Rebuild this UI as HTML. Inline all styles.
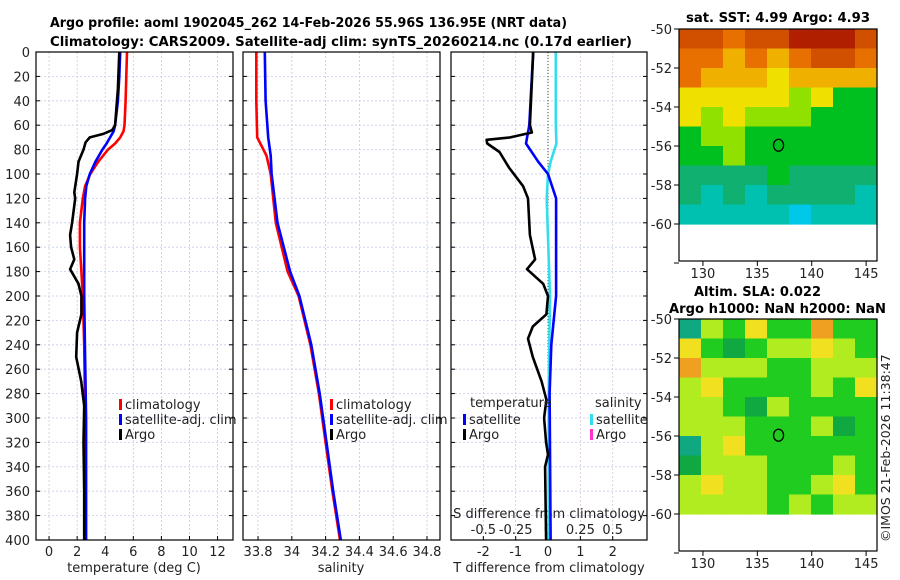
<!DOCTYPE html>
<html><head><meta charset="utf-8"><style>
body{margin:0;background:#fff;}
svg{display:block;font-family:"DejaVu Sans","Liberation Sans",sans-serif;}
</style></head><body>
<svg id="chart" width="900" height="580" viewBox="0 0 900 580">
<text x="50" y="27" font-size="13" font-weight="bold" textLength="517" lengthAdjust="spacingAndGlyphs">Argo profile: aoml 1902045_262 14-Feb-2026 55.96S 136.95E (NRT data)</text>
<text x="50" y="46" font-size="13" font-weight="bold" textLength="582" lengthAdjust="spacingAndGlyphs">Climatology: CARS2009. Satellite-adj clim: synTS_20260214.nc (0.17d earlier)</text>
<text x="686" y="22" font-size="13" font-weight="bold" textLength="184" lengthAdjust="spacingAndGlyphs">sat. SST: 4.99 Argo: 4.93</text>
<text x="694" y="296" font-size="13" font-weight="bold" textLength="127" lengthAdjust="spacingAndGlyphs">Altim. SLA: 0.022</text>
<text x="669" y="313" font-size="13" font-weight="bold" textLength="217" lengthAdjust="spacingAndGlyphs">Argo h1000: NaN h2000: NaN</text>
<text transform="translate(890,542) rotate(-90)" font-size="12.5" fill="#222">©IMOS 21-Feb-2026 11:38:47</text>
<g id="g"></g>
</svg>
<script>
// depth (m)
const depthT=[0,20,40,60,65,70,75,80,90,100,110,120,140,160,180,200,240,300,400];
const tempClim=[5.55,5.5,5.45,5.37,5.3,5.07,4.7,4.2,3.5,2.93,2.57,2.4,2.2,2.2,2.3,2.4,2.5,2.57,2.6];
const tempSat=[5.07,5.0,4.9,4.7,4.6,4.35,4.1,3.8,3.3,2.9,2.65,2.57,2.5,2.5,2.5,2.5,2.55,2.64,2.64];
const depthArgo=[0,30,60,64,67,70,74,80,90,100,115,120,140,150,160,170,178,190,200,215,230,250,270,290,320,360,400];
const tempArgo=[5.0,4.9,4.7,4.5,3.9,2.9,2.6,2.45,2.1,2.0,1.8,1.86,1.64,1.5,1.57,1.8,1.5,2.1,2.3,2.3,2.0,1.93,2.29,2.5,2.45,2.5,2.5];
const depthS=[0,40,70,85,100,140,180,200,240,280,320,360,400];
const salClim=[33.79,33.79,33.795,33.85,33.875,33.905,33.975,34.04,34.11,34.16,34.2,34.24,34.285];
const salSat=[33.84,33.845,33.86,33.875,33.88,33.915,33.99,34.045,34.115,34.165,34.205,34.245,34.29];
const depthD=[0,60,75,90,100,120,200,240,280,400];
const dTSat=[-0.46,-0.58,-0.68,-0.3,0,0.25,0.25,0.1,0.05,0.08];
const dSSat=[0.06,0.06,0.065,0.02,0,-0.01,0.015,0.01,0.005,0.005];
const depthDA=[0,60,66,70,72,75,82,95,110,120,150,170,178,190,200,215,225,235,250,270,285,300,320,330,340,400];
const dTArgo=[-0.46,-0.56,-0.5,-1.17,-1.9,-1.88,-1.5,-1.2,-0.77,-0.62,-0.56,-0.4,-0.65,-0.15,0,-0.05,-0.47,-0.62,-0.47,-0.2,-0.05,-0.12,-0.06,0,-0.09,-0.06];
const tTicks=[0,2,4,6,8,10,12];
const sTicks=[33.8,34,34.2,34.4,34.6,34.8];
const dTicks=[-2,-1,0,1,2];
const dsTicks=["-0.5","-0.25","0","0.25","0.5"];
const yTicks=[0,20,40,60,80,100,120,140,160,180,200,220,240,260,280,300,320,340,360,380,400];
const latTicks=[-50,-52,-54,-56,-58,-60];
const lonTicks=[130,135,140,145];
const sstGrid=[[8,8,7,8,8,9,9,9,8],[7,7,6,7,6,7,8,8,7],[7,6,6,6,5,6,6,6,6],[5,5,5,5,5,4,5,3,3],[5,4,5,4,4,4,3,3,3],[3,4,4,3,3,3,3,3,3],[3,3,4,3,3,3,3,3,3],[2,2,2,2,3,2,2,2,2],[2,1,2,1,2,2,2,2,1],[1,1,1,1,1,0,1,1,1]];
const slaGrid=[[1,4,3,5,3,3,6,3,3],[5,3,2,3,4,4,5,4,3],[6,4,4,4,3,3,4,4,4],[4,5,3,3,3,3,4,3,5],[4,4,3,2,4,3,3,3,3],[4,4,4,3,3,3,4,2,3],[1,4,5,3,3,3,3,3,3],[2,4,4,4,3,3,3,4,3],[4,5,4,4,3,3,4,5,3],[4,4,4,4,3,4,3,4,4]];
const argoLon=136.95, argoLat=-55.96;

const NS="http://www.w3.org/2000/svg";
const G=document.getElementById('g');
function mk(t,a,p){const e=document.createElementNS(NS,t);for(const k in a)e.setAttribute(k,a[k]);(p||G).appendChild(e);return e;}
const Y0=52,Y1=540;
const yd=d=>Y0+(d/400)*(Y1-Y0);
const panels=[{x0:36,x1:233,min:-0.93,max:13.1},{x0:243,x1:440,min:33.711,max:34.877},{x0:451,x1:647,min:-3.0,max:3.06}];
const sx=(p,v)=>p.x0+(v-p.min)/(p.max-p.min)*(p.x1-p.x0);
function grid(p,ticks,name){
  ticks.forEach(t=>{const x=sx(p,t);
    let l=mk('line',{x1:x,x2:x,y1:Y0,y2:Y1,stroke:'#d8c0d8','stroke-width':0.8,'stroke-dasharray':'2,2'});
    
    
    let tk=mk('line',{x1:x,x2:x,y1:Y1,y2:Y1-4,stroke:'#000'});
    
    });
  yTicks.forEach(d=>{const y=yd(d);
    let l=mk('line',{x1:p.x0,x2:p.x1,y1:y,y2:y,stroke:'#c4cdea','stroke-width':0.8,'stroke-dasharray':'2,2'});
    
    
    let tk=mk('line',{x1:p.x0,x2:p.x0+4,y1:y,y2:y,stroke:'#000'});
    
    
    let tk2=mk('line',{x1:p.x1,x2:p.x1-4,y1:y,y2:y,stroke:'#000'});
    
    });
}
function frame(x0,y0,x1,y1,name){let r=mk('rect',{x:x0,y:y0,width:x1-x0,height:y1-y0,fill:'none',stroke:'#000','stroke-width':1.2});
  
  }
function line(p,vals,deps,col,name,w,scale){
  const pts=vals.map((v,i)=>sx(p,v*(scale||1)).toFixed(1)+','+yd(deps[i]).toFixed(1)).join(' ');
  let e=mk('polyline',{points:pts,fill:'none',stroke:col,'stroke-width':w||2.6,'stroke-linejoin':'round'});
  
  }
function txt(x,y,s,opt,name){let e=mk('text',Object.assign({x:x,y:y,'font-size':13,fill:'#222'},opt||{}));e.textContent=s;
  
  return e;}
function legendItem(x,y,col,label,name){
  let b=mk('rect',{x:x,y:y-10,width:3,height:11,fill:col});
  
  
  txt(x+6,y,label,{},name+'-label');}

grid(panels[0],tTicks,'temp');grid(panels[1],sTicks,'sal');grid(panels[2],dTicks,'diff');
yTicks.forEach(d=>txt(30,yd(d)+5,String(d),{'text-anchor':'end'},'depth-tick-label'));
tTicks.forEach(t=>txt(sx(panels[0],t),556,String(t),{'text-anchor':'middle'},'temp-tick-label'));
sTicks.forEach(t=>txt(sx(panels[1],t),556,t.toFixed(1).replace('34.0','34'),{'text-anchor':'middle'},'sal-tick-label'));
dTicks.forEach(t=>txt(sx(panels[2],t),556,String(t),{'text-anchor':'middle'},'diff-tick-label'));
dsTicks.forEach((t,i)=>txt(sx(panels[2],dTicks[i]),534,t,{'text-anchor':'middle'},'sdiff-tick-label'));
txt(134,572,'temperature (deg C)',{'text-anchor':'middle'},'temp-axis-title');
txt(341,572,'salinity',{'text-anchor':'middle'},'sal-axis-title');
txt(549,572,'T difference from climatology',{'text-anchor':'middle'},'tdiff-axis-title');
txt(549,518,'S difference from climatology',{'text-anchor':'middle'},'sdiff-axis-title');
{const x=sx(panels[2],0);let z=mk('line',{x1:x,x2:x,y1:Y0,y2:Y1,stroke:'#335533','stroke-width':1,'stroke-dasharray':'1,2'});

}
line(panels[0],tempClim,depthT,'#ff0000','temp-climatology-line');
line(panels[0],tempSat,depthT,'#0000ff','temp-satellite-line');
line(panels[0],tempArgo,depthArgo,'#000','temp-argo-line');
line(panels[1],salClim,depthS,'#ff0000','sal-climatology-line');
line(panels[1],salSat,depthS,'#0000ff','sal-satellite-line');
line(panels[2],dSSat,depthD,'#33ddee','sdiff-satellite-line',2.6,4);
line(panels[2],dTSat,depthD,'#0000ff','tdiff-satellite-line');
line(panels[2],dTArgo,depthDA,'#000','tdiff-argo-line');
panels.forEach((p,i)=>frame(p.x0,Y0,p.x1,Y1,'panel-frame-'+i));
legendItem(119,409,'#ff0000','climatology','legend-climatology');
legendItem(119,424,'#0000ff','satellite-adj. clim','legend-satellite');
legendItem(119,439,'#000','Argo','legend-argo');
legendItem(330,409,'#ff0000','climatology','legend2-climatology');
legendItem(330,424,'#0000ff','satellite-adj. clim','legend2-satellite');
legendItem(330,439,'#000','Argo','legend2-argo');
txt(470,407,'temperature',{},'legend3-temperature-heading');
legendItem(463,424,'#0000ff','satellite','legend3-t-satellite');
legendItem(463,439,'#000','Argo','legend3-t-argo');
txt(595,407,'salinity',{},'legend3-salinity-heading');
legendItem(590,424,'#33ddee','satellite','legend3-s-satellite');
legendItem(590,439,'#ff33cc','Argo','legend3-s-argo');
const MX0=679,MX1=877,lonMin=127.8,lonMax=146.0;
const mx=l=>MX0+(l-lonMin)/(lonMax-lonMin)*(MX1-MX0);
const sstCols=['#00c8e8','#00c0b0','#10b070','#00c020','#90e000','#f0e000','#f0b000','#e87000','#d05000','#b02000'];
const slaCols=['#20b8e0','#10a880','#10a840','#20cc20','#b0ec20','#f0e020','#f0a020'];
function drawMap(top,gridArr,cols,name){
  const latY=lat=>top+(-50-lat)*19.5;
  const rows=gridArr.length,nc=gridArr[0].length,cw=(MX1-MX0)/nc,ch=(latY(-60)-top)/rows;
  gridArr.forEach((row,r)=>row.forEach((v,c)=>{
    let e=mk('rect',{x:(MX0+c*cw).toFixed(1),y:(top+r*ch).toFixed(1),width:(cw+0.6).toFixed(1),height:(ch+0.6).toFixed(1),fill:cols[v]});
    
    }));
  const bot=top+232;
  frame(MX0,top,MX1,bot,name+'-frame');
  latTicks.forEach(l=>{const y=latY(l);
    let t=mk('line',{x1:MX0,x2:MX0-5,y1:y,y2:y,stroke:'#000'});
    
    
    txt(672,y+5,String(l),{'text-anchor':'end'},name+'-lat-label');});
  {let t=mk('line',{x1:MX0,x2:MX0-5,y1:latY(-62),y2:latY(-62),stroke:'#000'});
   
   }
  lonTicks.forEach(l=>{const x=mx(l);
    let t=mk('line',{x1:x,x2:x,y1:bot,y2:bot+5,stroke:'#000'});
    
    
    txt(x,bot+17,String(l),{'text-anchor':'middle'},name+'-lon-label');});
  let c=mk('ellipse',{cx:mx(argoLon),cy:latY(argoLat),rx:5,ry:6,fill:'none',stroke:'#000','stroke-width':1.3});
  
  
}
drawMap(29,sstGrid,sstCols,'sst-map');
drawMap(319,slaGrid,slaCols,'sla-map');
</script>
</body></html>
